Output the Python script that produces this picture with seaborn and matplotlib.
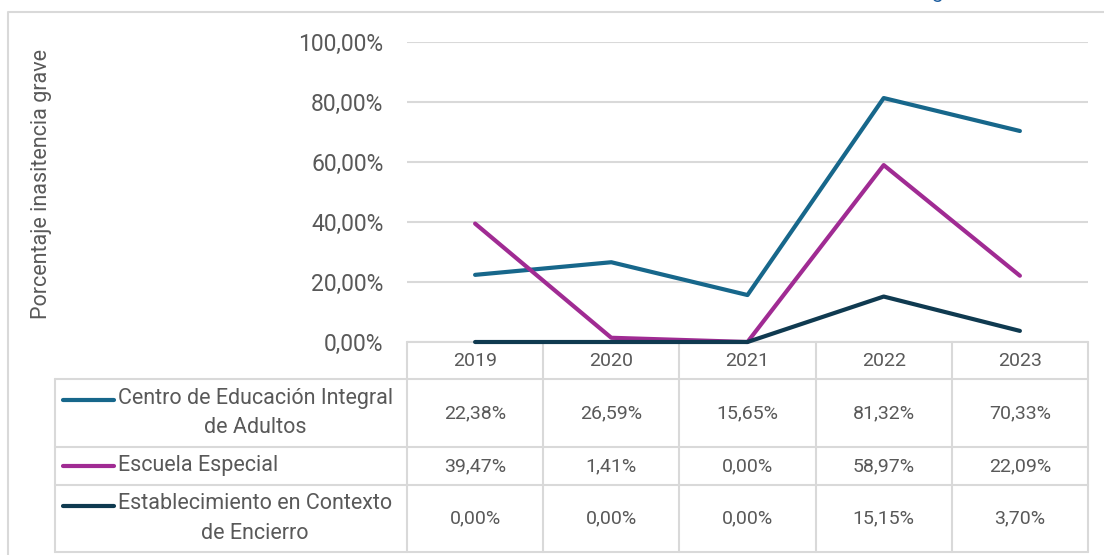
import matplotlib
matplotlib.use("Agg")
import matplotlib.pyplot as plt
import seaborn as sns
import pandas as pd
import numpy as np

# --- data ---
years = ["2019", "2020", "2021", "2022", "2023"]
series_names = [
    "Centro de Educación Integral\nde Adultos",
    "Escuela Especial",
    "Establecimiento en Contexto\nde Encierro",
]
cea_values = [22.38, 26.59, 15.65, 81.32, 70.33]
especial_values = [39.47, 1.41, 0.00, 58.97, 22.09]
encierro_values = [0.00, 0.00, 0.00, 15.15, 3.70]
y_ticks = [0, 20, 40, 60, 80, 100]
y_label = "Porcentaje inasitencia grave"

colors = ["#17678b", "#a02b93", "#0f3a50"]
text_color = "#595959"
grid_color = "#d9d9d9"


def pct(v):
    return f"{v:.2f}%".replace(".", ",")


df = pd.DataFrame({
    "pos": list(range(len(years))) * 3,
    "value": cea_values + especial_values + encierro_values,
    "serie": [s for s in series_names for _ in years],
})

sns.set_theme(style="white")
plt.rcParams["font.family"] = ["Roboto", "DejaVu Sans"]

W, H = 1104, 555
fig = plt.figure(figsize=(W / 100, H / 100), dpi=100)

# layout in pixels
plot_left, plot_right, plot_top, plot_bottom = 407, 1088, 42, 342
row_edges = [plot_bottom, 379, 447, 485, 552]
label_left = 55

# table / frame layer underneath the plot
tab = fig.add_axes([0, 0, 1, 1], zorder=0)
tab.set_xlim(0, W)
tab.set_ylim(H, 0)
tab.axis("off")

ax = fig.add_axes([plot_left / W, 1 - plot_bottom / H,
                   (plot_right - plot_left) / W, (plot_bottom - plot_top) / H], zorder=1)
ax.patch.set_alpha(0)

sns.lineplot(data=df, x="pos", y="value", hue="serie", hue_order=series_names,
             palette=colors, linewidth=3, legend=False, sort=False, ax=ax)
for ln in ax.lines:
    ln.set_solid_capstyle("round")
    ln.set_solid_joinstyle("round")
    ln.set_clip_on(False)

ax.set_xlim(-0.5, len(years) - 0.5)
ax.set_ylim(0, 100)
ax.set_yticks(y_ticks)
ax.set_yticklabels([pct(t) for t in y_ticks], color=text_color, fontsize=16.5)
ax.set_xticks([])
ax.tick_params(axis="y", length=0, pad=17)
ax.grid(axis="y", color=grid_color, linewidth=1.5)
ax.set_axisbelow(True)
ax.set_xlabel("")
ax.set_ylabel("")
for sp in ax.spines.values():
    sp.set_visible(False)

fig.text(42 / W, 1 - 184 / H, y_label, rotation=90, ha="center", va="center",
         color=text_color, fontsize=15.5)

# outer chart frame (partly cropped)
tab.plot([8, 8, W + 5], [H + 5, 12, 12], color=grid_color, lw=1.5, clip_on=False)
# cropped title fragment
fig.text(938 / W, 1 + 1.5 / H, "g", color="#1f5fa0", fontsize=15, ha="center", va="baseline")

# data table
col_edges = np.linspace(plot_left, plot_right, len(years) + 1)
col_centers = (col_edges[:-1] + col_edges[1:]) / 2
for y in row_edges:
    x0 = plot_left if y == plot_bottom else label_left
    tab.plot([x0, plot_right], [y, y], color=grid_color, lw=1.5)
for x in col_edges:
    tab.plot([x, x], [row_edges[0], row_edges[-1]], color=grid_color, lw=1.5)
tab.plot([label_left, label_left], [row_edges[1], row_edges[-1]], color=grid_color, lw=1.5)

header_y = (row_edges[0] + row_edges[1]) / 2
for xc, yr in zip(col_centers, years):
    tab.text(xc, header_y, yr, ha="center", va="center", color=text_color, fontsize=14)

renderer = fig.canvas.get_renderer()
for i, (name, vals, c) in enumerate(zip(series_names, [cea_values, especial_values, encierro_values], colors)):
    yc = (row_edges[i + 1] + row_edges[i + 2]) / 2
    for xc, v in zip(col_centers, vals):
        tab.text(xc, yc, pct(v), ha="center", va="center", color=text_color, fontsize=14)
    t = tab.text(118, yc, name, ha="left", va="center", multialignment="center",
                 linespacing=1.55, color=text_color, fontsize=15.5)
    n_lines = name.count("\n") + 1
    bb = t.get_window_extent(renderer=renderer)
    step = (bb.height - bb.height / (n_lines + 0.0)) / max(n_lines - 1, 1) if n_lines > 1 else 0
    key_y = yc - (n_lines - 1) * (bb.height / n_lines) / 2
    tab.plot([63, 114], [key_y, key_y], color=c, lw=3, solid_capstyle="round")

fig.savefig("out.png", dpi=100)
